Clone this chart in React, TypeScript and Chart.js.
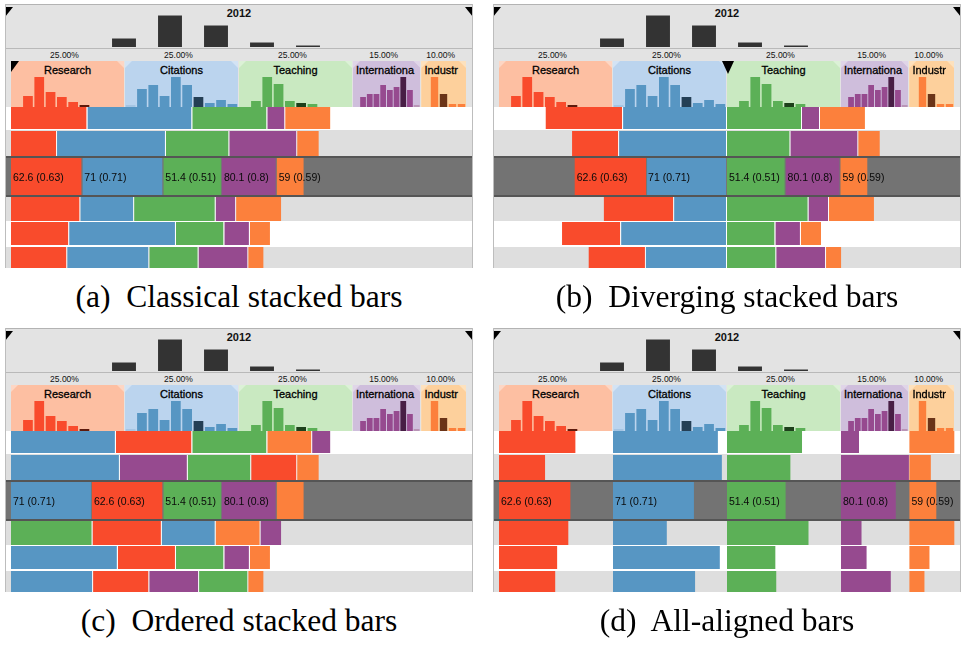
import React, { useEffect, useRef } from "react";
import { Chart, registerables } from "chart.js";
Chart.register(...registerables);

// ---------------- data ----------------
const attributes = ["Research", "Citations", "Teaching", "International", "Industry"];
const headerLabels = ["Research", "Citations", "Teaching", "Internationa", "Industr"];
const weights = [25, 25, 25, 15, 10];
const weightLabels = ["25.00%", "25.00%", "25.00%", "15.00%", "10.00%"];
const yearLabel = "2012";
const yearHistogram = [0, 0, 9, 32, 22, 5, 2, 0, 0, 0];

const researchScores = [67, 40.4, 62.6, 60.8, 51, 49.3];
const citationsScores = [92, 95.5, 71, 47.2, 93.7, 72];
const teachingScores = [65.8, 55.6, 51.4, 71.5, 42.4, 43.2];
const internationalScores = [26.3, 99.3, 80.1, 30, 37.4, 72.8];
const industryScores = [98.5, 47, 59, 98.5, 44, 33];

const researchHist = [0, 11, 30, 15, 10, 5, 2, 0, 0, 0];
const citationsHist = [2, 18, 22, 11, 30, 22, 10, 4, 7, 3];
const teachingHist = [0, 6, 30, 23, 6, 4, 3, 0, 0, 0];
const internationalHist = [0, 10, 13, 13, 22, 17, 20, 30, 17, 2];
const industryHist = [0, 30, 13, 3, 3];
const highlightBins = [6, 6, 5, 7, 2];
const fadedBins = [[], [0], [], [9], []];
const selectedRow = 2;

const captions = [
  "(a)  Classical stacked bars",
  "(b)  Diverging stacked bars",
  "(c)  Ordered stacked bars",
  "(d)  All-aligned bars",
];
const modes = ["stacked", "diverging", "ordered", "aligned"];
const hiddenLabels = [[], [], ["Industry"], []];

// ---------------- styles / layout ----------------
const scoreTable = [researchScores, citationsScores, teachingScores, internationalScores, industryScores];
const histTable = [researchHist, citationsHist, teachingHist, internationalHist, industryHist];
const COLORS = ["#f94b2c", "#5796c3", "#5cb057", "#964a8f", "#fc803c"];
const DARK = ["#5e1a0c", "#243f55", "#1d401b", "#481e45", "#6b3418"];
const FADED = ["#f9a08c", "#a5c5e3", "#a7d6a3", "#b995b6", "#fdb88e"];
const HEADER_BG = ["#fdbfa2", "#bbd4ee", "#c9e9c1", "#cfbedc", "#fdd09c"];
const HEADER_CORNER = ["#fdd6c4", "#d3e3f4", "#dcf1d7", "#e0d5e8", "#fde1bd"];
const PX = 4.56;
const BAR_LEFT = 11;
const SANS = '"Liberation Sans", Arial, Helvetica, sans-serif';
const SERIF = '"Liberation Serif", "Times New Roman", serif';
const PANEL_ORIGINS = [
  [0, 0],
  [488, 0],
  [0, 324],
  [488, 324],
];
const ROW_LAYOUT = [
  { bgTop: 107, bgH: 23, barTop: 107, barH: 22 },
  { bgTop: 130, bgH: 26, barTop: 131, barH: 25 },
  { bgTop: 156, bgH: 41, barTop: 158, barH: 37 },
  { bgTop: 197, bgH: 24, barTop: 197, barH: 24 },
  { bgTop: 221, bgH: 26, barTop: 222, barH: 23 },
  { bgTop: 247, bgH: 21, barTop: 247, barH: 21 },
];

const cumWeights = weights.map((_, i) => weights.slice(0, i).reduce((a, b) => a + b, 0));
const colStart = cumWeights.map((c) => BAR_LEFT + c * PX);
const colWidth = weights.map((w) => w * PX - 1);

function baseOptions(extra: any) {
  return {
    animation: false,
    responsive: false,
    devicePixelRatio: 1,
    events: [],
    layout: { padding: 0 },
    plugins: { legend: { display: false }, tooltip: { enabled: false }, title: { display: false } },
    ...extra,
  };
}

const labelPlugin = {
  id: "segLabels",
  afterDatasetsDraw(chart: any) {
    const ctx = chart.ctx;
    chart.data.datasets.forEach((ds: any, i: number) => {
      if (!ds.labelText) return;
      const el = chart.getDatasetMeta(i).data[0];
      if (!el) return;
      const left = Math.min(el.x, el.base);
      ctx.save();
      ctx.font = `10.5px ${SANS}`;
      ctx.fillStyle = "#0a0a0a";
      ctx.textBaseline = "middle";
      ctx.textAlign = "left";
      ctx.fillText(ds.labelText, left + 2, el.y + 1.5);
      ctx.restore();
    });
  },
};

function ChartCanvas({ left, top, width, height, config }: any) {
  const ref = useRef<HTMLCanvasElement>(null);
  useEffect(() => {
    const chart = new Chart(ref.current as HTMLCanvasElement, config);
    return () => chart.destroy();
  }, []);
  return (
    <canvas
      ref={ref}
      width={width}
      height={height}
      style={{ position: "absolute", left, top, width, height }}
    />
  );
}

function histConfig(values: number[], colors: string[], max: number, barPct: number, topBorder: boolean) {
  return {
    type: "bar",
    data: {
      labels: values.map((_, i) => String(i)),
      datasets: [
        {
          data: values,
          backgroundColor: colors,
          borderColor: "#8c8c8c",
          borderWidth: topBorder ? { top: 1, left: 0, right: 0, bottom: 0 } : 0,
          borderSkipped: "start",
          barPercentage: barPct,
          categoryPercentage: 1,
          inflateAmount: 0,
        },
      ],
    },
    options: baseOptions({
      scales: {
        x: { display: false },
        y: { display: false, min: 0, max },
      },
    }),
  };
}

function rowConfig(mode: string, row: number, hide: string[]) {
  const scores = scoreTable.map((arr) => arr[row]);
  const contrib = scores.map((s, i) => (s * weights[i]) / 100);
  const sel = row === selectedRow;
  const gap = sel ? "#767676" : "#ffffff";
  const R = { top: 0, bottom: 0, left: 0, right: 1 };
  const mk = (i: number, value: any, bw: any, grouped = true) => ({
    label: attributes[i],
    data: [value],
    backgroundColor: COLORS[i],
    borderColor: gap,
    borderWidth: bw,
    borderSkipped: false,
    barPercentage: 1,
    categoryPercentage: 1,
    inflateAmount: 0,
    grouped,
    labelText: sel && !hide.includes(attributes[i]) ? `${scores[i]} (${Math.round(scores[i]) / 100})` : null,
  });
  let datasets: any[] = [];
  let min = 0;
  let max = 100;
  let stacked = true;
  if (mode === "stacked" || mode === "ordered") {
    let order = attributes.map((_, i) => i);
    if (mode === "ordered") order = order.sort((a, b) => contrib[b] - contrib[a]);
    datasets = order.map((i, k) => mk(i, contrib[i], k < order.length - 1 ? R : 0));
  } else if (mode === "diverging") {
    min = -50;
    max = 50;
    datasets = [
      mk(1, -contrib[1], { top: 0, bottom: 0, left: 1, right: 1 }),
      mk(0, -contrib[0], 0),
      mk(2, contrib[2], R),
      mk(3, contrib[3], R),
      mk(4, contrib[4], 0),
    ];
  } else {
    stacked = false;
    datasets = attributes.map((_, i) => mk(i, [cumWeights[i], cumWeights[i] + contrib[i]], 0, false));
  }
  return {
    type: "bar",
    data: { labels: [""], datasets },
    options: baseOptions({
      indexAxis: "y",
      scales: {
        x: { display: false, min, max, stacked },
        y: { display: false, stacked },
      },
    }),
    plugins: [labelPlugin],
  };
}

function abs(extra: any): React.CSSProperties {
  return { position: "absolute", ...extra };
}

function Panel({ index }: { index: number }) {
  const [ox, oy] = PANEL_ORIGINS[index];
  const mode = modes[index];
  const truncated = headerLabels.map((h, i) => h !== attributes[i]);
  return (
    <div style={abs({ left: ox, top: oy, width: 488, height: 324 })}>
      {/* header background */}
      <div style={abs({ left: 5, top: 4, width: 468, height: 103, background: "#e3e3e3", borderTop: "1px solid #b3b3b3", boxSizing: "border-box" })} />
      <div style={abs({ left: 5, top: 48, width: 468, height: 1, background: "#b9b9b9" })} />
      <div style={abs({ left: 0, top: 8, width: 478, textAlign: "center", font: `bold 11px ${SANS}`, lineHeight: "11px", color: "#111" })}>
        {yearLabel}
      </div>
      <ChartCanvas
        left={9}
        top={15}
        width={460}
        height={32}
        config={histConfig(yearHistogram, yearHistogram.map(() => "#333333"), 32, 0.52, true)}
      />
      {/* corner markers */}
      <div style={abs({ left: 5, top: 7, width: 0, height: 0, borderTop: "10px solid #000", borderRight: "8px solid transparent" })} />
      <div style={abs({ left: 465, top: 7, width: 0, height: 0, borderTop: "10px solid #000", borderLeft: "8px solid transparent" })} />
      {/* weights */}
      {weightLabels.map((w, i) => (
        <div key={"w" + i} style={abs({ left: colStart[i] - 3 + colWidth[i] / 2 - 30, top: 51, width: 60, textAlign: "center", font: `8.5px ${SANS}`, lineHeight: "8.5px", color: "#111" })}>
          {w}
        </div>
      ))}
      {/* column headers */}
      {attributes.map((a, i) => {
        const colors = histTable[i].map((_, b) =>
          b === highlightBins[i] ? DARK[i] : fadedBins[i].includes(b) ? FADED[i] : COLORS[i]
        );
        const c = 7;
        return (
          <React.Fragment key={a}>
            <div style={abs({ left: colStart[i], top: 61, width: colWidth[i], height: 46, background: HEADER_CORNER[i] })} />
            <div
              style={abs({
                left: colStart[i],
                top: 61,
                width: colWidth[i],
                height: 46,
                background: HEADER_BG[i],
                clipPath: `polygon(${c}px 0, calc(100% - ${c}px) 0, 100% ${c}px, 100% 100%, 0 100%, 0 ${c}px)`,
              })}
            />
            <div
              style={abs({
                left: colStart[i] + (truncated[i] ? 3 : 0),
                top: 65,
                width: truncated[i] ? colWidth[i] + 10 : colWidth[i],
                textAlign: truncated[i] ? "left" : "center",
                font: `11px ${SANS}`,
                lineHeight: "11px",
                color: "#000",
                WebkitTextStroke: "0.3px #000",
                whiteSpace: "nowrap",
              })}
            >
              {headerLabels[i]}
            </div>
            <ChartCanvas
              left={colStart[i]}
              top={76}
              width={Math.round(colWidth[i])}
              height={31}
              config={histConfig(histTable[i], colors, 31, histTable[i].length > 5 ? 0.86 : 0.82, false)}
            />
          </React.Fragment>
        );
      })}
      {mode === "stacked" && (
        <div style={abs({ left: 11, top: 61, width: 0, height: 0, borderTop: "11px solid #000", borderRight: "8px solid transparent" })} />
      )}
      {mode === "diverging" && (
        <div style={abs({ left: 233.5, top: 61, width: 0, height: 0, borderTop: "13px solid #000", borderLeft: "6.5px solid transparent", borderRight: "6.5px solid transparent" })} />
      )}
      {/* rows */}
      {ROW_LAYOUT.map((r, k) => {
        const sel = k === selectedRow;
        const bg = sel ? "#737373" : k % 2 === 1 ? "#dedede" : "#ffffff";
        return (
          <React.Fragment key={"r" + k}>
            <div
              style={abs({
                left: 5,
                top: r.bgTop,
                width: 468,
                height: r.bgH,
                background: bg,
                boxSizing: "border-box",
                borderTop: sel ? "2px solid #555" : "none",
                borderBottom: sel ? "2px solid #555" : "none",
              })}
            />
            <ChartCanvas left={BAR_LEFT} top={r.barTop} width={456} height={r.barH} config={rowConfig(mode, k, hiddenLabels[index])} />
          </React.Fragment>
        );
      })}
      {/* side borders */}
      <div style={abs({ left: 5, top: 4, width: 1, height: 264, background: "#bdbdbd" })} />
      <div style={abs({ left: 472, top: 4, width: 1, height: 264, background: "#bdbdbd" })} />
      {/* caption */}
      <div style={abs({ left: 0, top: 280.6, width: 478, textAlign: "center", font: `31.5px ${SERIF}`, lineHeight: "31.5px", whiteSpace: "pre", color: "#000" })}>
        {captions[index]}
      </div>
    </div>
  );
}

export default function App() {
  return (
    <div style={{ position: "absolute", left: 0, top: 0, width: 976, height: 648, background: "#fff", overflow: "hidden" }}>
      {[0, 1, 2, 3].map((i) => (
        <Panel key={i} index={i} />
      ))}
    </div>
  );
}
